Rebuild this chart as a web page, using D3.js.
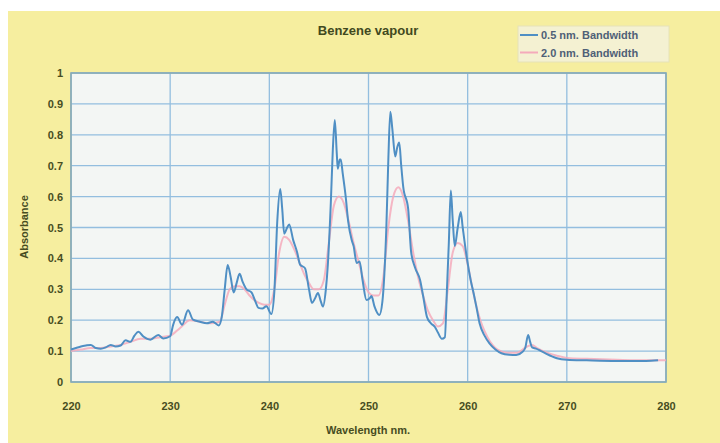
<!DOCTYPE html>
<html><head><meta charset="utf-8">
<script src="https://cdn.jsdelivr.net/npm/d3@7"></script>
<style>html,body{margin:0;padding:0;background:#fff;}svg{display:block;}</style>
</head><body>
<svg id="c" width="720" height="443"></svg>
<script>
// ---- data ----
const xTicks = [220,230,240,250,260,270,280];
const yTicks = [0,0.1,0.2,0.3,0.4,0.5,0.6,0.7,0.8,0.9,1];
const seriesNames = ["0.5 nm. Bandwidth","2.0 nm. Bandwidth"];
const wl05 = [220.0,220.5,221.0,221.5,222.0,222.5,223.0,223.5,224.0,224.5,225.0,225.5,226.0,226.4,226.8,227.3,228.0,228.8,229.3,230.0,230.3,230.7,231.2,231.8,232.3,233.0,233.7,234.3,234.9,235.2,235.5,235.8,236.1,236.4,236.7,237.0,237.3,237.7,238.2,238.6,238.9,239.3,239.7,240.2,240.5,240.8,241.1,241.3,241.5,241.8,242.0,242.4,242.8,243.1,243.6,244.0,244.3,244.6,244.9,245.2,245.4,245.7,245.9,246.2,246.4,246.6,246.8,246.9,247.1,247.2,247.4,247.7,247.95,248.3,248.5,248.8,249.1,249.4,249.8,250.1,250.3,250.6,251.1,251.4,251.6,251.8,252.0,252.2,252.4,252.7,252.9,253.1,253.3,253.5,254.0,254.3,254.7,255.2,255.5,255.9,256.3,256.7,257.0,257.4,257.7,257.9,258.1,258.3,258.5,258.7,259.0,259.3,259.5,259.9,260.3,260.6,260.9,261.2,261.7,262.2,262.8,263.4,264.2,264.9,265.5,265.8,266.1,266.3,266.5,266.9,267.4,267.9,268.5,269.0,270.0,272.0,275.0,278.0,279.2];
const abs05 = [0.105,0.11,0.115,0.118,0.12,0.11,0.108,0.112,0.12,0.115,0.118,0.135,0.13,0.15,0.163,0.147,0.137,0.152,0.141,0.148,0.185,0.21,0.185,0.232,0.202,0.195,0.19,0.195,0.183,0.21,0.30,0.379,0.34,0.29,0.32,0.35,0.325,0.30,0.29,0.26,0.24,0.238,0.245,0.22,0.29,0.52,0.625,0.56,0.48,0.50,0.51,0.46,0.42,0.38,0.368,0.30,0.256,0.27,0.288,0.26,0.244,0.30,0.38,0.58,0.75,0.848,0.74,0.69,0.72,0.72,0.675,0.60,0.52,0.46,0.44,0.385,0.39,0.33,0.265,0.27,0.278,0.245,0.217,0.26,0.35,0.50,0.72,0.875,0.82,0.73,0.76,0.775,0.70,0.632,0.56,0.42,0.37,0.33,0.28,0.21,0.19,0.178,0.16,0.14,0.145,0.29,0.45,0.62,0.52,0.44,0.50,0.55,0.50,0.405,0.33,0.287,0.24,0.19,0.15,0.125,0.105,0.093,0.088,0.087,0.097,0.11,0.152,0.13,0.112,0.108,0.10,0.092,0.083,0.077,0.072,0.07,0.068,0.068,0.07];
const wl20 = [220.0,221.0,222.0,223.0,224.0,225.0,226.0,227.0,228.0,229.0,230.0,231.0,232.0,233.0,234.0,235.0,235.5,236.0,236.5,237.0,237.5,238.0,238.5,239.0,239.5,240.0,240.5,241.0,241.5,242.0,242.5,243.0,243.5,244.0,244.5,245.0,245.5,246.0,246.5,247.0,247.5,248.0,248.5,249.0,249.5,250.0,250.5,251.0,251.5,252.0,252.5,253.0,253.5,254.0,254.5,255.0,255.5,256.0,256.5,257.0,257.5,258.0,258.5,259.0,259.5,260.0,260.5,261.0,261.5,262.0,262.5,263.0,264.0,265.0,266.0,266.5,267.0,268.0,269.0,270.0,272.0,275.0,278.0,280.0];
const abs20 = [0.10,0.105,0.11,0.11,0.115,0.12,0.13,0.14,0.14,0.145,0.15,0.175,0.20,0.195,0.19,0.195,0.25,0.30,0.31,0.31,0.30,0.28,0.265,0.255,0.25,0.25,0.30,0.42,0.47,0.46,0.43,0.39,0.35,0.32,0.30,0.30,0.33,0.45,0.57,0.60,0.58,0.52,0.45,0.39,0.33,0.29,0.28,0.28,0.34,0.50,0.60,0.63,0.60,0.52,0.42,0.34,0.28,0.23,0.20,0.18,0.19,0.30,0.42,0.45,0.44,0.38,0.30,0.23,0.18,0.145,0.12,0.105,0.095,0.095,0.115,0.12,0.11,0.095,0.085,0.078,0.075,0.072,0.07,0.07];

// ---- drawing ----
const svg = d3.select("#c");
const W = 720, H = 443;
const plot = {l:71, r:666, t:73, b:382};
const txt = "#474d1f";
const font = "'Liberation Sans', Arial, sans-serif";

svg.append("rect").attr("x",0).attr("y",0).attr("width",W).attr("height",H).attr("fill","#ffffff");
svg.append("rect").attr("x",8).attr("y",11).attr("width",W-8).attr("height",H-11).attr("fill","#f6ee9f");

const x = d3.scaleLinear().domain([220,280]).range([plot.l, plot.r]);
const y = d3.scaleLinear().domain([0,1]).range([plot.b, plot.t]);

svg.append("rect").attr("x",plot.l).attr("y",plot.t).attr("width",plot.r-plot.l).attr("height",plot.b-plot.t)
  .attr("fill","#f3f6f4");

// grid
svg.append("g").selectAll("line.h").data(yTicks).join("line")
  .attr("x1",plot.l).attr("x2",plot.r).attr("y1",d=>y(d)).attr("y2",d=>y(d))
  .attr("stroke","#93bedf").attr("stroke-width",1.3);
svg.append("g").selectAll("line.v").data(xTicks).join("line")
  .attr("y1",plot.t).attr("y2",plot.b).attr("x1",d=>x(d)).attr("x2",d=>x(d))
  .attr("stroke","#93bedf").attr("stroke-width",1.3);

svg.append("rect").attr("x",plot.l).attr("y",plot.t).attr("width",plot.r-plot.l).attr("height",plot.b-plot.t)
  .attr("fill","none").attr("stroke","#88aab4").attr("stroke-width",1.6);

// axes
const xAxis = svg.append("g").attr("transform",`translate(0,${plot.b})`)
  .call(d3.axisBottom(x).tickValues(xTicks).tickSize(0).tickPadding(20).tickFormat(d3.format("d")));
const yAxis = svg.append("g").attr("transform",`translate(${plot.l},0)`)
  .call(d3.axisLeft(y).tickValues(yTicks).tickSize(0).tickPadding(8).tickFormat(d=>String(d)));
[xAxis,yAxis].forEach(g=>{
  g.select(".domain").remove();
  g.selectAll("text").attr("fill",txt).attr("font-family",font).attr("font-weight","bold").attr("font-size","11px");
});

// lines
const line = d3.line().x(d=>x(d[0])).y(d=>y(d[1])).curve(d3.curveMonotoneX);
const s20 = wl20.map((w,i)=>[w,abs20[i]]);
const s05 = wl05.map((w,i)=>[w,abs05[i]]);
svg.append("path").datum(s20).attr("d",line).attr("fill","none").attr("stroke","#f4aabb").attr("stroke-width",2).attr("opacity",0.85);
svg.append("path").datum(s05).attr("d",line).attr("fill","none").attr("stroke","#4f8fc4").attr("stroke-width",2);

// titles
svg.append("text").attr("x",368).attr("y",35).attr("text-anchor","middle").attr("fill","#41491e")
  .attr("font-family",font).attr("font-weight","bold").attr("font-size","13px").text("Benzene vapour");
svg.append("text").attr("x",368).attr("y",434).attr("text-anchor","middle").attr("fill",txt)
  .attr("font-family",font).attr("font-weight","bold").attr("font-size","11px").text("Wavelength nm.");
svg.append("text").attr("transform","translate(28,227) rotate(-90)").attr("text-anchor","middle").attr("fill",txt)
  .attr("font-family",font).attr("font-weight","bold").attr("font-size","11px").text("Absorbance");

// legend
const lg = svg.append("g");
lg.append("rect").attr("x",518).attr("y",26).attr("width",151).attr("height",36)
  .attr("fill","#f4f1d2").attr("stroke","#e6e2b8").attr("stroke-width",1);
const lcolors = ["#4f8fc4","#f4aabb"];
seriesNames.forEach((n,i)=>{
  const yy = 35 + i*17.5;
  lg.append("line").attr("x1",520).attr("x2",538).attr("y1",yy).attr("y2",yy).attr("stroke",lcolors[i]).attr("stroke-width",2);
  lg.append("text").attr("x",541).attr("y",yy+4).attr("fill","#4f6077").attr("font-family",font)
    .attr("font-weight","bold").attr("font-size","11px").text(n);
});
</script>
</body></html>
